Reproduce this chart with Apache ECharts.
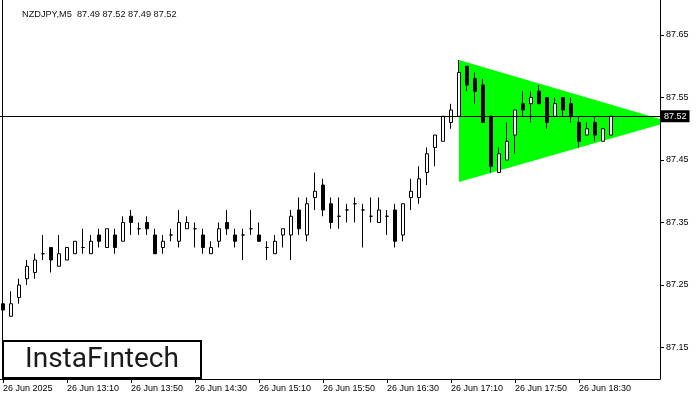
<!DOCTYPE html>
<html>
<head>
<meta charset="utf-8">
<script src="https://cdn.jsdelivr.net/npm/echarts@6/dist/echarts.min.js"></script>
<style>
html,body{margin:0;padding:0;background:#fff;}
#chart{width:700px;height:400px;}
</style>
</head>
<body>
<div id="chart"></div>
<script>
// ---- data (NZDJPY, M5, 26 Jun 2025 from 12:30) ----
const openP = [87.22,87.20,87.23,87.26,87.27,87.30,87.31,87.28,87.29,87.30,
  87.31,87.30,87.33,87.31,87.33,87.32,87.36,87.34,87.35,87.33,
  87.31,87.33,87.32,87.34,87.34,87.33,87.30,87.32,87.35,87.33,
  87.33,87.34,87.33,87.31,87.30,87.33,87.33,87.37,87.33,87.39,
  87.41,87.38,87.36,87.37,87.38,87.37,87.36,87.35,87.36,87.37,
  87.33,87.39,87.39,87.43,87.47,87.48,87.51,87.52,87.60,87.58,
  87.57,87.52,87.43,87.45,87.49,87.54,87.54,87.56,87.55,87.52,
  87.55,87.54,87.51,87.49,87.51,87.48,87.49];
const closeP = [87.21,87.22,87.25,87.28,87.29,87.30,87.29,87.30,87.31,87.32,
  87.31,87.32,87.32,87.34,87.31,87.35,87.35,87.34,87.34,87.30,
  87.32,87.33,87.35,87.35,87.34,87.31,87.31,87.34,87.34,87.32,
  87.33,87.34,87.32,87.31,87.32,87.34,87.36,87.34,87.38,87.40,
  87.37,87.35,87.36,87.37,87.38,87.37,87.36,87.37,87.36,87.32,
  87.38,87.40,87.42,87.46,87.49,87.52,87.53,87.59,87.57,87.56,
  87.51,87.44,87.46,87.48,87.53,87.53,87.55,87.54,87.51,87.54,
  87.53,87.52,87.48,87.50,87.49,87.50,87.52];
const lowP = [87.19,87.20,87.22,87.25,87.26,87.29,87.27,87.28,87.29,87.30,
  87.30,87.30,87.31,87.31,87.30,87.32,87.33,87.33,87.33,87.30,
  87.30,87.32,87.31,87.34,87.31,87.30,87.30,87.31,87.33,87.31,
  87.29,87.33,87.32,87.29,87.30,87.31,87.29,87.33,87.32,87.37,
  87.36,87.34,87.34,87.35,87.35,87.31,87.35,87.35,87.33,87.31,
  87.32,87.37,87.38,87.41,87.44,87.48,87.50,87.52,87.56,87.54,
  87.51,87.43,87.43,87.45,87.46,87.52,87.51,87.54,87.50,87.52,
  87.52,87.51,87.47,87.49,87.48,87.48,87.49];
const highP = [87.23,87.24,87.26,87.29,87.30,87.33,87.31,87.33,87.31,87.32,
  87.34,87.33,87.34,87.34,87.34,87.36,87.37,87.35,87.36,87.34,
  87.33,87.34,87.37,87.36,87.35,87.34,87.32,87.35,87.37,87.34,
  87.34,87.37,87.35,87.32,87.33,87.34,87.37,87.39,87.39,87.43,
  87.42,87.39,87.39,87.38,87.39,87.38,87.39,87.39,87.37,87.38,
  87.38,87.42,87.44,87.47,87.49,87.52,87.54,87.61,87.60,87.59,
  87.58,87.52,87.47,87.51,87.53,87.56,87.56,87.57,87.55,87.55,
  87.55,87.55,87.52,87.51,87.52,87.50,87.52];

// x-axis tick labels (every 8th candle = 40 minutes)
const tickIndex = [0, 8, 16, 24, 32, 40, 48, 56, 64, 72];
const tickLabels = ['26 Jun 2025','26 Jun 13:10','26 Jun 13:50','26 Jun 14:30','26 Jun 15:10',
  '26 Jun 15:50','26 Jun 16:30','26 Jun 17:10','26 Jun 17:50','26 Jun 18:30'];
// y-axis tick labels: every 0.10 starting at 87.05 (87.15 ... 87.65 visible)
const priceTickStart = 87.05;
const priceTickEnd = 87.75;
const priceTickStep = 0.1;

// symmetrical triangle pattern vertices (candle index, price)
const triX = [57, 57, 83.3];
const triY = [87.61, 87.415, 87.511];

const titleText = 'NZDJPY,M5  87.49 87.52 87.49 87.52';
const logoText = 'InstaF\u0131ntech';

// ---- build ----
const candles = openP.map((o, i) => [i, o, closeP[i], lowP[i], highP[i]]);
const lastClose = closeP[closeP.length - 1];
const FONT = '"Liberation Sans", Arial, sans-serif';

// visible plot: top y=0 -> 87.706, bottom y=379 -> 87.0996 (625 px per 1.00)
const PX = 625;
const visMin = 87.0996, visMax = 87.706;
const tickGridTop = -(priceTickEnd - visMax) * PX;
const tickGridHeight = (priceTickEnd - priceTickStart) * PX;

const chart = echarts.init(document.getElementById('chart'), null, {renderer: 'canvas'});
chart.setOption({
  animation: false,
  backgroundColor: '#fff',
  title: {
    text: titleText, left: 17, top: 5,
    textStyle: {fontFamily: FONT, fontSize: 9.2, fontWeight: 'normal', color: '#111'}
  },
  grid: [
    {left: 0, width: 660, top: 0, height: 379, containLabel: false, outerBoundsMode: 'none'},
    {left: 0, width: 660, top: tickGridTop, height: tickGridHeight, containLabel: false, outerBoundsMode: 'none'}
  ],
  xAxis: [
    {
      gridIndex: 0, type: 'value', min: -0.375, max: 82.125,
      axisLine: {show: true, onZero: false, lineStyle: {color: '#000', width: 1}},
      axisTick: {show: true, length: 4, lineStyle: {color: '#000'}, customValues: tickIndex},
      axisLabel: {
        customValues: tickIndex, align: 'left', margin: 5,
        fontFamily: FONT, fontSize: 9, color: '#000',
        formatter: v => { const k = tickIndex.indexOf(Math.round(v)); return k >= 0 ? tickLabels[k] : ''; }
      },
      splitLine: {show: false}
    },
    {gridIndex: 1, type: 'value', min: 0, max: 1, show: false}
  ],
  yAxis: [
    {
      gridIndex: 0, type: 'value', position: 'right', min: visMin, max: visMax,
      axisLine: {show: true, onZero: false, lineStyle: {color: '#000', width: 1}},
      axisTick: {show: false}, axisLabel: {show: false},
      splitLine: {show: false}
    },
    {
      gridIndex: 1, type: 'value', position: 'right',
      min: priceTickStart, max: priceTickEnd, interval: priceTickStep,
      axisLine: {show: false, onZero: false},
      axisTick: {show: true, length: 4, lineStyle: {color: '#000'}},
      axisLabel: {margin: 6, fontFamily: FONT, fontSize: 9, color: '#000',
        formatter: v => v.toFixed(2)},
      splitLine: {show: false}
    }
  ],
  series: [
    {
      type: 'custom', z: 1, clip: true, silent: true,
      xAxisIndex: 0, yAxisIndex: 0,
      data: [[triX[0], triY[0]]],
      renderItem: function (params, api) {
        const pts = triX.map((x, i) => api.coord([x, triY[i]]));
        return {type: 'polygon', shape: {points: pts}, style: {fill: '#00ff00', stroke: null}};
      }
    },
    {
      type: 'candlestick', z: 2,
      xAxisIndex: 0, yAxisIndex: 0,
      barWidth: 4,
      encode: {x: 0, y: [1, 2, 3, 4]},
      data: candles,
      itemStyle: {
        color: '#ffffff', color0: '#000000',
        borderColor: '#000000', borderColor0: '#000000', borderColorDoji: '#000000',
        borderWidth: 1
      },
      markLine: {
        silent: true, symbol: ['none', 'none'],
        lineStyle: {color: '#000', type: 'solid', width: 1},
        label: {
          show: true, position: 'end', distance: 1,
          backgroundColor: '#000', color: '#fff', padding: [2, 3, 1, 3],
          fontFamily: FONT, fontSize: 9,
          formatter: p => Number(p.value).toFixed(2)
        },
        emphasis: {disabled: true},
        data: [{yAxis: lastClose}]
      }
    }
  ],
  graphic: [
    {type: 'line', shape: {x1: 2.5, y1: 0, x2: 2.5, y2: 379}, style: {stroke: '#000', lineWidth: 1}, z: 50},
    {type: 'rect', shape: {x: 3, y: 341, width: 198, height: 37},
      style: {fill: '#fff', stroke: '#000', lineWidth: 2}, z: 100},
    {type: 'text', x: 102, y: 360, z: 101,
      style: {text: logoText, align: 'center', verticalAlign: 'middle',
        font: '400 28px Roboto, "Noto Sans", sans-serif', fill: '#1a1a1a'}}
  ]
});
</script>
</body>
</html>
